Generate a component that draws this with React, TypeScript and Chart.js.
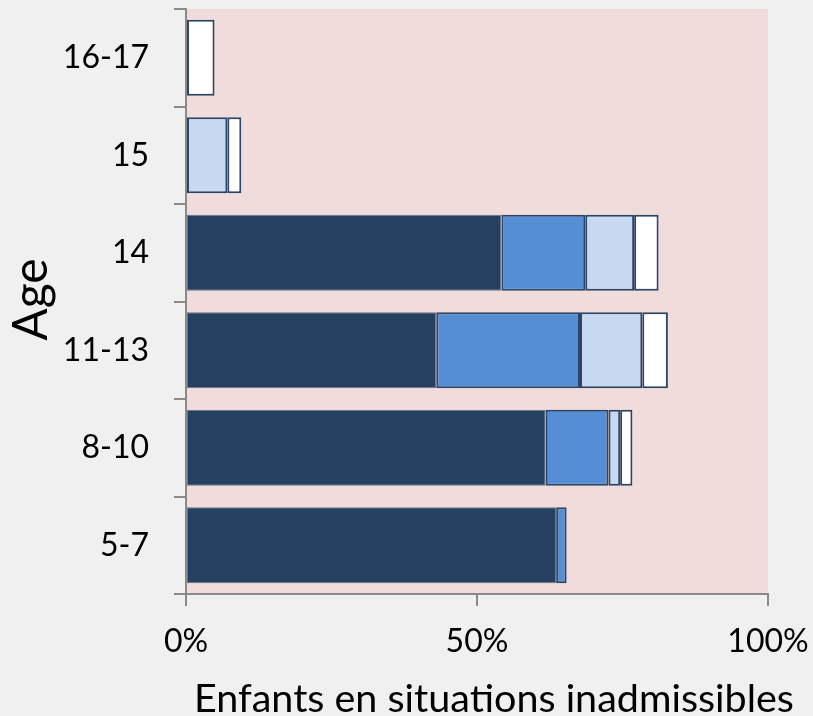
import React, { useEffect, useRef } from 'react';
import { Chart, registerables } from 'chart.js';

Chart.register(...registerables);

const ageGroups = ['16-17', '15', '14', '11-13', '8-10', '5-7'];
const seriesDark = [null, null, 54.2, 43.0, 61.8, 63.6];
const seriesMid = [null, null, 14.4, 24.7, 10.8, 1.8];
const seriesLight = [null, 7.1, 8.4, 10.7, 2.0, null];
const seriesWhite = [4.9, 2.4, 4.2, 4.4, 2.1, null];
const xTickValues = [0, 50, 100];
const xTitle = 'Enfants en situations inadmissibles';
const yTitle = 'Age';

const PAGE_BG = '#F0F0F0';
const PLOT_BG = '#F0DCDB';
const AXIS_GRAY = '#8A8A8A';
const FONT = 'Lato';

const bgPlugin = {
  id: 'bgPlugin',
  beforeDraw(chart: any) {
    const { ctx, chartArea, width, height } = chart;
    ctx.save();
    ctx.fillStyle = PAGE_BG;
    ctx.fillRect(0, 0, width, height);
    ctx.fillStyle = PLOT_BG;
    ctx.fillRect(chartArea.left, chartArea.top, chartArea.right - chartArea.left, chartArea.bottom - chartArea.top);
    ctx.restore();
  },
};

const titlePlugin = {
  id: 'titlePlugin',
  afterDraw(chart: any) {
    const { ctx, chartArea } = chart;
    ctx.save();
    ctx.fillStyle = '#000';
    ctx.textAlign = 'center';
    ctx.textBaseline = 'alphabetic';
    ctx.font = `39.5px ${FONT}`;
    ctx.fillText(xTitle, (chartArea.left + chartArea.right) / 2 + 17, 712);
    ctx.translate(47, (chartArea.top + chartArea.bottom) / 2 - 2);
    ctx.rotate(-Math.PI / 2);
    ctx.font = `48px ${FONT}`;
    ctx.fillText(yTitle, 0, 0);
    ctx.restore();
  },
};

const zeroPad = (scale: any) => {
  scale.paddingTop = 0;
  scale.paddingBottom = 0;
  scale.paddingLeft = 0;
  scale.paddingRight = 0;
};

export default function App() {
  const ref = useRef<HTMLCanvasElement | null>(null);

  useEffect(() => {
    if (!ref.current) return;
    const common = {
      barPercentage: 0.78,
      categoryPercentage: 1,
      borderSkipped: false,
    };
    const chart = new Chart(ref.current, {
      type: 'bar',
      data: {
        labels: ageGroups,
        datasets: [
          { label: 'a', data: seriesDark, backgroundColor: '#254061', borderColor: '#66758A', borderWidth: 1, ...common },
          { label: 'b', data: seriesMid, backgroundColor: '#558ED5', borderColor: '#2A4568', borderWidth: 2, ...common },
          { label: 'c', data: seriesLight, backgroundColor: '#C6D9F1', borderColor: '#2A4568', borderWidth: 2, ...common },
          { label: 'd', data: seriesWhite, backgroundColor: '#FFFFFF', borderColor: '#2A4568', borderWidth: 2, ...common },
        ],
      } as any,
      options: {
        indexAxis: 'y',
        animation: false,
        responsive: false,
        maintainAspectRatio: false,
        layout: { padding: { left: 0, top: 9, right: 45, bottom: 0 } },
        plugins: { legend: { display: false }, tooltip: { enabled: false }, title: { display: false } },
        scales: {
          x: {
            stacked: true,
            min: 0,
            max: 100,
            afterBuildTicks: (scale: any) => {
              scale.ticks = xTickValues.map((v) => ({ value: v }));
            },
            afterFit: (scale: any) => {
              scale.height = 122;
              zeroPad(scale);
            },
            ticks: {
              callback: (v: any) => `${v}%`,
              color: '#000',
              font: { family: FONT, size: 32 },
              padding: 16,
              maxRotation: 0,
              autoSkip: false,
            },
            grid: {
              drawOnChartArea: false,
              drawTicks: true,
              tickLength: 12,
              color: AXIS_GRAY,
              lineWidth: 2,
              tickWidth: 2,
            },
            border: { display: true, color: AXIS_GRAY, width: 2 },
          },
          y: {
            stacked: true,
            afterFit: (scale: any) => {
              scale.width = 186;
              zeroPad(scale);
            },
            ticks: {
              color: '#000',
              font: { family: FONT, size: 32 },
              padding: 25,
              autoSkip: false,
            },
            grid: {
              offset: true,
              drawOnChartArea: false,
              drawTicks: true,
              tickLength: 12,
              color: AXIS_GRAY,
              lineWidth: 2,
              tickWidth: 2,
            },
            border: { display: true, color: AXIS_GRAY, width: 2 },
          },
        },
      } as any,
      plugins: [bgPlugin, titlePlugin],
    });
    return () => chart.destroy();
  }, []);

  return (
    <div style={{ position: 'fixed', left: 0, top: 0, width: 813, height: 716, background: PAGE_BG }}>
      <canvas ref={ref} width={813} height={716} style={{ display: 'block', width: 813, height: 716 }} />
    </div>
  );
}
